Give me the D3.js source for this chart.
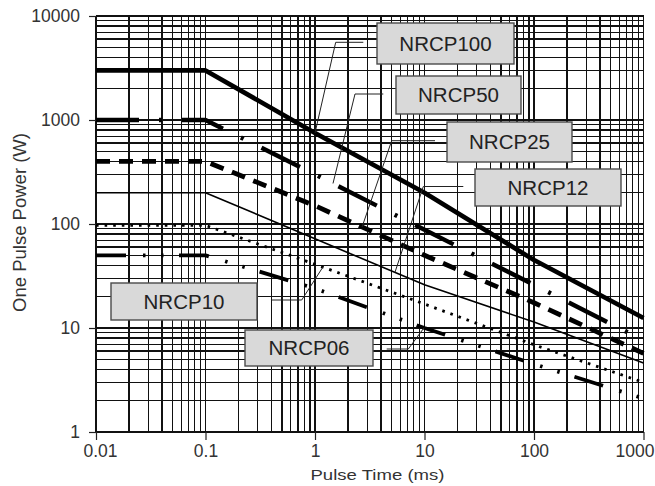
<!DOCTYPE html>
<html>
<head>
<meta charset="utf-8">
<script src="https://cdn.jsdelivr.net/npm/d3@7"></script>
<style>
  html, body { margin: 0; padding: 0; background: #fff; }
  svg { display: block; font-family: "Liberation Sans", Arial, Helvetica, sans-serif; }
</style>
</head>
<body>
<svg id="chart" width="655" height="486"></svg>
<script>
// ---------- data ----------
const timeTicks = [0.01, 0.1, 1, 10, 100, 1000];
const timeTickLabels = ["0.01", "0.1", "1", "10", "100", "1000"];
const powerTicks = [1, 10, 100, 1000, 10000];
const powerTickLabels = ["1", "10", "100", "1000", "10000"];
const seriesNames = ["NRCP100", "NRCP50", "NRCP25", "NRCP12", "NRCP10", "NRCP06"];
const pulseTimes = [0.01, 0.1, 1, 10, 100, 1000];
const nrcp100 = [3000, 3000, 750, 200, 45, 12.5];
const nrcp50  = [1000, 1000, 300, 88, 26, 7.6];
const nrcp25  = [400, 400, 150, 50, 17.5, 5.7];
const nrcp12  = [200, 200, 72, 26, 11.4, 4.6];
const nrcp10  = [97, 97, 41, 17, 6.9, 3.0];
const nrcp06  = [50, 50, 24, 10, 4.5, 2.1];
const leaderTimes = [1, 1.46, 2.69, 5.37, 1.18, 9.9];
const xTitle = "Pulse Time (ms)";
const yTitle = "One Pulse Power (W)";

const seriesValues = [nrcp100, nrcp50, nrcp25, nrcp12, nrcp10, nrcp06];

// ---------- styles / layout ----------
const lineStyles = [
  { w: 4.6, dash: null },
  { w: 4.4, dash: "43,20,3,20" },
  { w: 4.8, dash: "14,9" },
  { w: 1.6, dash: null },
  { w: 2.8, dash: "2.6,6" },
  { w: 3.8, dash: "30,17,2.5,15.5,2.5,15.5" }
];
// box [x0,y0,x1,y1], elbow point, start of horizontal leader
const labelLayout = [
  { box: [377, 23, 514, 64],   elbow: [335.7, 42.3],  start: 363.3 },
  { box: [396, 76, 521, 114],  elbow: [355, 94],      start: 383.3 },
  { box: [447, 122, 572, 162], elbow: [391.7, 140.7], start: 435 },
  { box: [475, 169, 621, 206], elbow: [423.3, 186.5], start: 463.3 },
  { box: [111, 283, 257, 320], elbow: [301.7, 300],   start: 271.7 },
  { box: [245, 330, 373, 366], elbow: [408.3, 349],   start: 386.7 }
];

const svg = d3.select("#chart");
const x = d3.scaleLog().domain([0.01, 1000]).range([96, 643.5]);
const y = d3.scaleLog().domain([1, 10000]).range([432, 16]);

// ---------- grid ----------
const gridX = [], gridY = [];
[0.01, 0.1, 1, 10, 100].forEach(d => { for (let k = 1; k <= 9; k++) gridX.push(d * k); });
gridX.push(1000);
[1, 10, 100, 1000].forEach(d => { for (let k = 1; k <= 9; k++) gridY.push(d * k); });
gridY.push(10000);

const grid = svg.append("g").attr("stroke", "#111").attr("stroke-width", 1.2)
  .attr("shape-rendering", "crispEdges");
grid.selectAll("line.v").data(gridX).join("line").attr("class", "v")
  .attr("x1", d => x(d)).attr("x2", d => x(d)).attr("y1", y(1)).attr("y2", y(10000));
grid.selectAll("line.h").data(gridY).join("line").attr("class", "h")
  .attr("y1", d => y(d)).attr("y2", d => y(d)).attr("x1", x(0.01)).attr("x2", x(1000));

// ---------- axes ----------
const xAxis = d3.axisBottom(x).tickValues(timeTicks)
  .tickFormat((d, i) => timeTickLabels[i]).tickSize(8).tickPadding(5);
const gx = svg.append("g").attr("transform", `translate(0,${y(1)})`).call(xAxis);
gx.select(".domain").remove();
gx.selectAll(".tick line").attr("stroke", "#222").attr("stroke-width", 1.2);
gx.selectAll(".tick text").attr("font-size", 17.5).attr("fill", "#333")
  .attr("font-family", "Liberation Sans, Arial, sans-serif");
gx.selectAll(".tick text").filter((d, i) => i === 0).attr("dx", 4);
gx.selectAll(".tick text").filter((d, i) => i === timeTicks.length - 1)
  .attr("text-anchor", "end").attr("x", 10.5);

const yAxis = d3.axisLeft(y).tickValues(powerTicks)
  .tickFormat((d, i) => powerTickLabels[i]).tickSize(7).tickPadding(9);
const gy = svg.append("g").attr("transform", `translate(${x(0.01)},0)`).call(yAxis);
gy.select(".domain").remove();
gy.selectAll(".tick line").attr("stroke", "#222").attr("stroke-width", 1.2);
gy.selectAll(".tick text").attr("font-size", 17.5).attr("fill", "#333")
  .attr("font-family", "Liberation Sans, Arial, sans-serif");

// ---------- series ----------
const line = d3.line().x(d => x(d.t)).y(d => y(d.p));
const seriesData = seriesNames.map((name, i) => ({
  name, style: lineStyles[i],
  points: pulseTimes.map((t, j) => ({ t, p: seriesValues[i][j] }))
}));
svg.append("g").selectAll("path").data(seriesData).join("path")
  .attr("d", d => line(d.points))
  .attr("fill", "none").attr("stroke", "#000")
  .attr("stroke-width", d => d.style.w)
  .attr("stroke-dasharray", d => d.style.dash)
  .attr("stroke-linejoin", "round");

// interpolate a series value (log-log) at time t
function valueAt(points, t) {
  for (let j = 0; j < points.length - 1; j++) {
    const a = points[j], b = points[j + 1];
    if (t >= a.t && t <= b.t) {
      const f = (Math.log10(t) - Math.log10(a.t)) / (Math.log10(b.t) - Math.log10(a.t));
      return Math.pow(10, Math.log10(a.p) + f * (Math.log10(b.p) - Math.log10(a.p)));
    }
  }
  return points[points.length - 1].p;
}

// ---------- leaders + label boxes ----------
const lead = svg.append("g").attr("fill", "none").attr("stroke", "#222").attr("stroke-width", 1);
seriesData.forEach((s, i) => {
  const L = labelLayout[i];
  const t = leaderTimes[i];
  const tx = x(t), ty = y(valueAt(s.points, t));
  lead.append("path")
    .attr("d", `M${L.start},${L.elbow[1]}L${L.elbow[0]},${L.elbow[1]}L${tx},${ty}`);
});

const boxes = svg.append("g");
seriesData.forEach((s, i) => {
  const b = labelLayout[i].box;
  boxes.append("rect")
    .attr("x", b[0]).attr("y", b[1]).attr("width", b[2] - b[0]).attr("height", b[3] - b[1])
    .attr("fill", "#d9d9d9").attr("stroke", "#4a4a4a").attr("stroke-width", 1.4);
  boxes.append("text")
    .attr("x", (b[0] + b[2]) / 2).attr("y", (b[1] + b[3]) / 2 + 7.4)
    .attr("text-anchor", "middle").attr("font-size", 20.5).attr("fill", "#222")
    .text(s.name);
});

// ---------- titles ----------
svg.append("text").attr("x", 377.5).attr("y", 480).attr("text-anchor", "middle")
  .attr("font-size", 15.5).attr("fill", "#333")
  .attr("textLength", 134).attr("lengthAdjust", "spacingAndGlyphs")
  .text(xTitle);
svg.append("text").attr("transform", "translate(26,222.5) rotate(-90)")
  .attr("text-anchor", "middle").attr("font-size", 17.5).attr("fill", "#333")
  .attr("textLength", 179).attr("lengthAdjust", "spacingAndGlyphs")
  .text(yTitle);
</script>
</body>
</html>
